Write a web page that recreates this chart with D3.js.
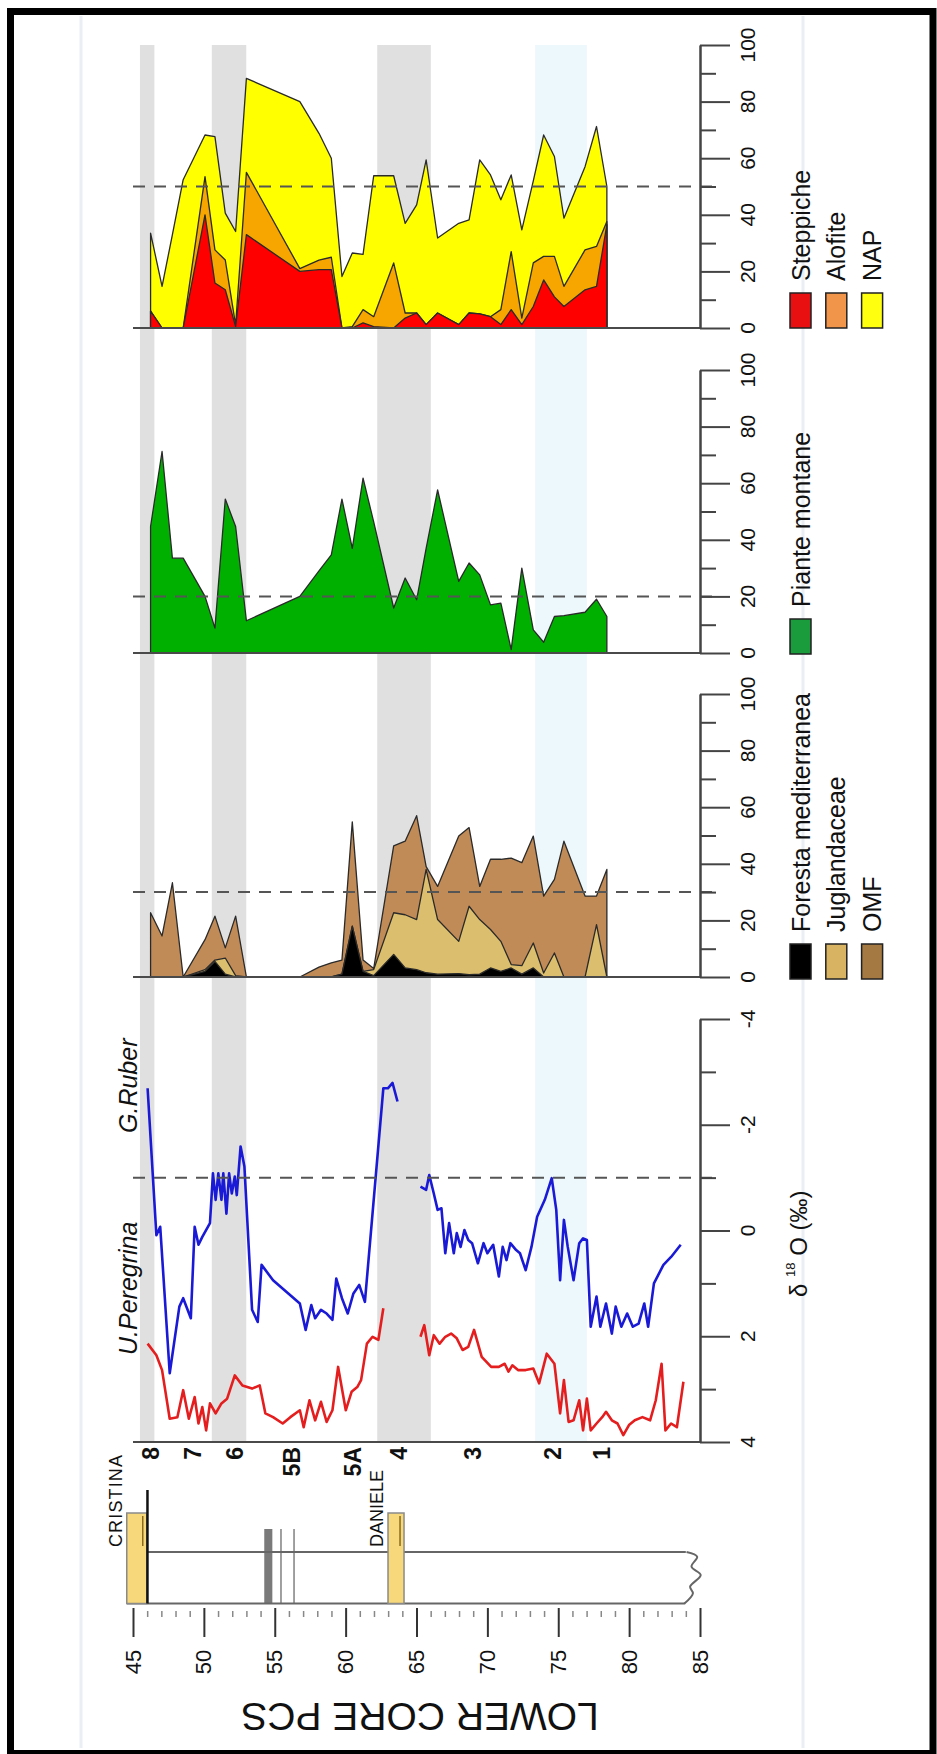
<!DOCTYPE html>
<html lang="en">
<head>
<meta charset="UTF-8">
<title>Lower core PCS</title>
<script src="https://d3js.org/d3.v7.min.js"></script>
<style>
  body { margin: 0; background: #fff; }
  svg text { font-family: "Liberation Sans", Arial, sans-serif; fill: #111; }
</style>
</head>
<body>
<svg id="main" width="937" height="1754"></svg>
<script>
// ---- data (depth in m, values in % or per mil) ----
const sampleDepth = [46.24, 47.05, 47.78, 48.54, 50.08, 50.78, 51.51, 52.24, 53.00, 56.77, 58.12, 58.99,
  59.74, 60.47, 61.23, 61.98, 63.39, 64.20, 65.01, 65.68, 66.49, 67.98, 68.71, 69.46, 70.22, 70.95,
  71.68, 72.43, 73.24, 73.97, 74.73, 75.40, 76.89, 77.70, 78.43];

const steppiche = [6, 0, 0, 0, 40, 15.9, 13.5, 0.5, 33, 20, 20.6, 20.6, 0, 0, 1.8, 0.5, 0, 3.5, 5.3, 1.2,
  5.3, 1.2, 5.3, 5, 4, 1.2, 6.5, 1.2, 7.6, 17, 11, 7.6, 13.5, 14.7, 36.5];
const alofite = [0, 0, 0, 0, 13.5, 11.7, 10.5, 0.5, 22, 1, 3.4, 4.4, 0, 0.5, 4.7, 3.5, 23, 1.8, 0, 0,
  0, 0, 0, 0, 0, 5.3, 20.5, 2.3, 15.4, 8.3, 14.3, 7.1, 14.1, 14.1, 1.1];
const nap = [33.5, 14.7, 33, 52.4, 68.2, 67.6, 40.6, 34.1, 88.2, 80, 68.8, 60, 18.2, 26.5, 26, 53.8, 53.8,
  37, 43.5, 59.4, 31.8, 37, 38.2, 59.4, 54.1, 45.3, 54.1, 34.7, 52, 68.2, 60.6, 38.8, 57, 71.2, 50];

const montane = [44.7, 71.2, 33.5, 33.5, 20, 8.8, 54.4, 44.7, 11.4, 20, 29, 34.7, 54.4, 37, 61.8, 46.3,
  15.9, 26.5, 18.8, 37, 57.6, 25.3, 31.8, 27.6, 17, 17.6, 1.2, 30, 8.2, 3.8, 12.9, 13.2, 14.4, 19, 12.9];

const forestaMed = [0, 0, 0, 0, 2, 5.5, 1, 0, 0, 0, 0, 0, 1, 18, 2, 0.5, 8, 3.2, 2.6, 1.5, 1, 1.2, 0.8, 1,
  3.2, 2, 3.2, 1, 3.2, 0, 0, 0, 0, 0, 0];
const juglandaceae = [0, 0, 0, 0, 0.6, 0.5, 5.7, 0.5, 0, 0, 0, 0, 0, 0, 0, 2.1, 14.7, 18.8, 17.7, 36.5,
  19.3, 11.4, 24.2, 19.3, 13.6, 10.6, 1.2, 3, 8.8, 1.4, 8.5, 0, 0, 18.5, 0];
const omf = [22.7, 14.5, 33.3, 0, 10.6, 15.5, 3.6, 21, 0, 0, 3.5, 5, 5, 36.8, 4, 0.4, 23.6, 26, 36.7, 1,
  11.7, 37.2, 27.8, 11.7, 24.8, 29, 37.6, 36.4, 37.8, 27.2, 26, 48, 28.6, 10.1, 38];

// d18O, null = gap in the record
const ruberDepth = [46.03, 46.65, 46.92, 47.59, 48.27, 48.54, 49.08, 49.35, 49.62, 49.89, 50.43, 50.64, 50.83,
  51.02, 51.24, 51.37, 51.59, 51.78, 51.97, 52.18, 52.32, 52.59, 52.86, 53.40, 53.80, 54.07, 54.88, 56.77,
  57.18, 57.58, 57.85, 58.26, 58.66, 59.07, 59.34, 59.74, 60.15, 60.55, 60.96, 61.36, 62.66, 62.98, 63.31,
  63.66, 64.5, 65.28, 65.68, 65.90, 66.22, 66.49, 66.76, 67.03, 67.30, 67.63, 67.84, 68.11, 68.38, 68.65,
  68.92, 69.33, 69.73, 70.00, 70.41, 70.81, 71.08, 71.35, 71.62, 72.03, 72.30, 72.70, 73.11, 73.51, 74.05,
  74.54, 74.86, 75.13, 75.40, 75.67, 76.08, 76.48, 76.75, 77.02, 77.29, 77.70, 77.97, 78.37, 78.78, 79.05,
  79.45, 79.86, 80.26, 80.67, 81.07, 81.34, 81.75, 82.42, 82.96, 83.64];
const ruberVal = [-2.69, 0.09, -0.07, 2.70, 1.44, 1.28, 1.66, -0.07, 0.27, 0.12, -0.14, -1.08, -0.58,
  -1.08, -0.58, -1.08, -0.32, -1.08, -0.70, -1.02, -0.67, -1.59, -1.21, 1.50, 1.73, 0.65, 0.94, 1.38,
  1.88, 1.41, 1.66, 1.50, 1.57, 1.69, 0.91, 1.28, 1.57, 1.19, 1.03, 1.35, -2.69, -2.69, -2.79,
  -2.44, null, -0.83, -0.77, -1.05, -0.70, -0.39, -0.42, 0.43, -0.14, 0.43, 0.05, 0.31, -0.01, 0.18,
  0.24, 0.62, 0.24, 0.43, 0.27, 0.87, 0.31, 0.56, 0.24, 0.37, 0.43, 0.75, 0.31, -0.26, -0.58,
  -0.99, -0.39, 0.94, -0.20, 0.31, 0.94, 0.24, 0.15, 0.18, 1.82, 1.25, 1.82, 1.38, 1.95, 1.44,
  1.82, 1.57, 1.82, 1.76, 1.38, 1.82, 1.00, 0.65, 0.50, 0.27];

const peregrinaDepth = [46.03, 46.65, 47.05, 47.59, 48.13, 48.54, 48.94, 49.35, 49.62, 49.89, 50.16, 50.43,
  50.83, 51.24, 51.64, 52.18, 52.72, 53.40, 53.94, 54.34, 54.88, 55.56, 56.10, 56.77, 57.04, 57.45, 57.85,
  58.26, 58.66, 59.07, 59.47, 60.01, 60.42, 60.82, 61.09, 61.50, 61.90, 62.31, 62.66, 64.0, 65.28, 65.55,
  65.90, 66.22, 66.63, 67.03, 67.44, 67.84, 68.25, 68.65, 69.06, 69.60, 70.27, 70.81, 71.22, 71.49, 71.76,
  72.16, 72.70, 73.24, 73.65, 74.19, 74.73, 75.13, 75.40, 75.73, 76.08, 76.48, 76.75, 77.02, 77.29, 77.70,
  78.10, 78.37, 78.78, 79.18, 79.59, 79.99, 80.40, 80.94, 81.48, 81.88, 82.29, 82.56, 82.96, 83.37, 83.83];
const peregrinaVal = [2.14, 2.36, 2.64, 3.56, 3.53, 3.02, 3.56, 3.15, 3.65, 3.34, 3.78, 3.27,
  3.46, 3.27, 3.18, 2.74, 2.93, 2.99, 2.93, 3.46, 3.53, 3.65, 3.53, 3.40, 3.72, 3.21, 3.59,
  3.24, 3.62, 3.40, 2.58, 3.40, 3.05, 2.96, 2.83, 2.14, 2.01, 2.07, 1.47, null, 2.01, 1.79,
  2.36, 1.98, 2.14, 2.01, 1.95, 2.04, 2.26, 2.20, 1.88, 2.39, 2.58, 2.58, 2.52, 2.67, 2.55,
  2.64, 2.64, 2.61, 2.89, 2.33, 2.52, 3.46, 2.83, 3.62, 3.59, 3.21, 3.78, 3.18, 3.78, 3.65,
  3.53, 3.43, 3.59, 3.65, 3.87, 3.68, 3.59, 3.53, 3.59, 3.21, 2.52, 3.78, 3.65, 3.72, 2.86];

// shaded stages (depth from, depth to, kind)
const bands = [[45.49, 46.51, 'grey'], [50.56, 52.99, 'grey'], [62.23, 66.01, 'grey'], [73.37, 77.02, 'blue']];
const misLabels = ['8', '7', '6', '5B', '5A', '4', '3', '2', '1'];
const misDepth = [46.24, 49.25, 52.2, 56.2, 60.5, 63.8, 69.0, 74.6, 78.1];

// core log
const tephraNames = ['CRISTINA', 'DANIELE'];
const tephraTop = [44.56, 62.99];
const tephraBase = [45.97, 64.12];
const layerTop = [54.26, 55.39, 56.31];
const layerBase = [54.83, 55.49, 56.41];
const coreTicks = [45, 50, 55, 60, 65, 70, 75, 80, 85];

const pctTicks = [0, 20, 40, 60, 80, 100];
const pctMinor = [10, 30, 50, 70, 90];
const isoTicks = [-4, -2, 0, 2, 4];
const isoMinor = [-3, -1, 1, 3];

// ---- drawing ----
const svg = d3.select('#main');
const x = d3.scaleLinear().domain([45, 85]).range([133, 700]);
const yNap = d3.scaleLinear().domain([0, 100]).range([328, 45]);
const yMont = d3.scaleLinear().domain([0, 100]).range([653, 370]);
const yFor = d3.scaleLinear().domain([0, 100]).range([977, 694]);
const yIso = d3.scaleLinear().domain([-4, 4]).range([1019, 1442]);

function vtext(px, py, str, size, anchor) {
  return svg.append('text')
    .attr('transform', `translate(${px},${py}) rotate(-90)`)
    .attr('text-anchor', anchor)
    .attr('dominant-baseline', 'central')
    .attr('font-size', size)
    .text(str);
}

// faint edges of the pasted figure
[81, 803].forEach(fx => {
  svg.append('line').attr('x1', fx).attr('x2', fx).attr('y1', 16).attr('y2', 1748)
    .attr('stroke', '#e9eff3').attr('stroke-width', 3);
});

svg.append('g').selectAll('rect').data(bands).join('rect')
  .attr('x', d => x(d[0])).attr('width', d => x(d[1]) - x(d[0]))
  .attr('y', 45).attr('height', 1442 - 45)
  .attr('fill', d => d[2] === 'blue' ? '#edf8fc' : '#e0e0e0');

const rows = sampleDepth.map((d, i) => ({
  depth: d, steppiche: steppiche[i], alofite: alofite[i], nap: nap[i], montane: montane[i],
  foresta: forestaMed[i], jugl: juglandaceae[i], omf: omf[i]
}));

const outline = sel => sel.attr('stroke', '#2a2a2a').attr('stroke-width', 1.3).attr('stroke-linejoin', 'round');

// panel 1: NAP, Alofite, Steppiche
svg.append('path').datum(rows)
  .attr('d', d3.area().x(d => x(d.depth)).y0(yNap(0)).y1(d => yNap(d.nap)))
  .attr('fill', '#ffff00').call(outline);
const stack1 = d3.stack().keys(['steppiche', 'alofite'])(rows);
const col1 = { steppiche: '#ff0000', alofite: '#f7a600' };
svg.append('g').selectAll('path').data(stack1.slice().reverse()).join('path')
  .attr('d', d3.area().x(d => x(d.data.depth)).y0(yNap(0)).y1(d => yNap(d[1])))
  .attr('fill', d => col1[d.key]).call(outline);

// panel 2: Piante montane
svg.append('path').datum(rows)
  .attr('d', d3.area().x(d => x(d.depth)).y0(yMont(0)).y1(d => yMont(d.montane)))
  .attr('fill', '#00b000').call(outline);

// panel 3: Foresta mediterranea, Juglandaceae, OMF
const stack3 = d3.stack().keys(['foresta', 'jugl', 'omf'])(rows);
const col3 = { foresta: '#000000', jugl: '#dcbf6e', omf: '#c08b57' };
svg.append('g').selectAll('path').data(stack3.slice().reverse()).join('path')
  .attr('d', d3.area().x(d => x(d.data.depth)).y0(yFor(0)).y1(d => yFor(d[1])))
  .attr('fill', d => col3[d.key]).call(outline);

// panel 4: d18O
const isoLine = d3.line().defined(d => d[1] !== null).x(d => x(d[0])).y(d => yIso(d[1]));
svg.append('path').datum(ruberDepth.map((d, i) => [d, ruberVal[i]]))
  .attr('d', isoLine).attr('fill', 'none').attr('stroke', '#1a1ad6').attr('stroke-width', 2.6)
  .attr('stroke-linejoin', 'round');
svg.append('path').datum(peregrinaDepth.map((d, i) => [d, peregrinaVal[i]]))
  .attr('d', isoLine).attr('fill', 'none').attr('stroke', '#e41e1e').attr('stroke-width', 2.6)
  .attr('stroke-linejoin', 'round');

// baselines
[yNap(0), yMont(0), yFor(0), yIso(4)].forEach(by => {
  svg.append('line').attr('x1', 133).attr('x2', 700).attr('y1', by).attr('y2', by)
    .attr('stroke', '#4a4a4a').attr('stroke-width', 2);
});

// dashed reference lines
[[yNap, 50], [yMont, 20], [yFor, 30], [yIso, -1]].forEach(([sc, v]) => {
  svg.append('line').attr('x1', 133).attr('x2', 714).attr('y1', sc(v)).attr('y2', sc(v))
    .attr('stroke', '#555').attr('stroke-width', 2).attr('stroke-dasharray', '12,9');
});

// value axes
function valueAxis(sc, majors, minors, fmt) {
  const g = svg.append('g').attr('transform', 'translate(700,0)').attr('color', '#444');
  g.call(d3.axisRight(sc).tickValues(majors).tickSize(30).tickSizeOuter(0).tickFormat(''));
  g.append('g').call(d3.axisRight(sc).tickValues(minors).tickSize(16).tickSizeOuter(0).tickFormat(''));
  g.selectAll('line, path').attr('stroke-width', 2);
  majors.forEach(v => vtext(747, sc(v), fmt(v), 21, 'middle'));
}
valueAxis(yNap, pctTicks, pctMinor, d => d);
valueAxis(yMont, pctTicks, pctMinor, d => d);
valueAxis(yFor, pctTicks, pctMinor, d => d);
valueAxis(yIso, isoTicks, isoMinor, d => d < 0 ? '-' + Math.abs(d) : d);

// series labels
vtext(127.5, 1133, 'G.Ruber', 25, 'start').attr('font-style', 'italic');
vtext(127.5, 1355, 'U.Peregrina', 25, 'start').attr('font-style', 'italic');

// legends: square bottom sits on the panel baseline
function legend(names, colors, base) {
  names.forEach((n, i) => {
    const lx = 790 + i * 35.8;
    svg.append('rect').attr('x', lx).attr('y', base - 35).attr('width', 21).attr('height', 35)
      .attr('fill', colors[i]).attr('stroke', '#222').attr('stroke-width', 1.5);
    vtext(lx + 10.5, base - 47, n, 25, 'start');
  });
}
legend(['Steppiche', 'Alofite', 'NAP'], ['#e81010', '#f0954a', '#ffff10'], yNap(0));
legend(['Piante montane'], ['#1a9c3c'], yMont(0) + 1);
legend(['Foresta mediterranea', 'Juglandaceae', 'OMF'], ['#000000', '#d8b462', '#a47a42'], yFor(0) + 2);

const iso = svg.append('text')
  .attr('transform', 'translate(798,1297) rotate(-90)')
  .attr('dominant-baseline', 'central').attr('font-size', 24);
iso.append('tspan').text('δ ');
iso.append('tspan').attr('font-size', 13).attr('dy', -8).text('18');
iso.append('tspan').attr('dy', 8).text(' O (‰)');

// stage labels
misLabels.forEach((m, i) => {
  vtext(x(misDepth[i]), 1447, m, 23, 'end').attr('font-weight', 'bold');
});

// ---- core log ----
const coreTop = 1552, coreBot = 1603.5;
svg.append('g').selectAll('rect').data(layerTop).join('rect')
  .attr('x', d => x(d)).attr('width', (d, i) => x(layerBase[i]) - x(d))
  .attr('y', 1529).attr('height', coreBot - 1529).attr('fill', '#7a7a7a');
svg.append('line').attr('x1', x(46.02)).attr('x2', x(84.0)).attr('y1', coreTop).attr('y2', coreTop)
  .attr('stroke', '#666').attr('stroke-width', 2);
svg.append('line').attr('x1', x(44.56)).attr('x2', x(83.95)).attr('y1', coreBot).attr('y2', coreBot)
  .attr('stroke', '#666').attr('stroke-width', 2);
const wave = [[x(84.05), coreTop], [x(84.8), 1556.7], [x(84.4), 1566.7], [x(85.05), 1575],
  [x(84.3), 1586.7], [x(84.5), 1593.3], [x(83.9), coreBot]];
svg.append('path').attr('d', d3.line().curve(d3.curveCatmullRom)(wave))
  .attr('fill', 'none').attr('stroke', '#666').attr('stroke-width', 2);

tephraNames.forEach((n, i) => {
  svg.append('rect').attr('x', x(tephraTop[i])).attr('width', x(tephraBase[i]) - x(tephraTop[i]))
    .attr('y', 1513).attr('height', coreBot - 1513)
    .attr('fill', '#f7d87a').attr('stroke', '#8a8a8a').attr('stroke-width', 1.5);
  const mx = x(tephraBase[i]) - 4;
  svg.append('line').attr('x1', mx).attr('x2', mx).attr('y1', 1516).attr('y2', 1546)
    .attr('stroke', '#8a6a1e').attr('stroke-width', 1.5);
  const t = vtext(x(tephraTop[i]) - 11, 1547, n, 18, 'start').attr('fill', '#333');
  if (n === 'CRISTINA') t.attr('textLength', 92);
});
svg.append('line').attr('x1', x(46.02)).attr('x2', x(46.02)).attr('y1', 1490).attr('y2', coreBot)
  .attr('stroke', '#111').attr('stroke-width', 2.5);

// depth axis
const ax = svg.append('g').attr('transform', 'translate(0,1608)').attr('color', '#333');
ax.call(d3.axisBottom(x).tickValues(coreTicks).tickSize(29).tickFormat(''));
ax.select('.domain').remove();
ax.selectAll('line').attr('stroke-width', 2);
const axm = svg.append('g').attr('transform', 'translate(0,1611)').attr('color', '#888');
axm.call(d3.axisBottom(x).tickValues(d3.range(46, 85).filter(v => v % 5 !== 0)).tickSize(6).tickFormat(''));
axm.select('.domain').remove();
axm.selectAll('line').attr('stroke-width', 1.5);
coreTicks.forEach(v => vtext(x(v), 1662, v, 22, 'middle'));

svg.append('text').attr('transform', 'translate(420,1716) rotate(180)')
  .attr('text-anchor', 'middle').attr('dominant-baseline', 'central')
  .attr('font-size', 39).text('LOWER CORE PCS');

svg.append('rect').attr('x', 10.5).attr('y', 11.5).attr('width', 922.5).attr('height', 1742)
  .attr('fill', 'none').attr('stroke', '#000').attr('stroke-width', 7);
</script>
</body>
</html>
